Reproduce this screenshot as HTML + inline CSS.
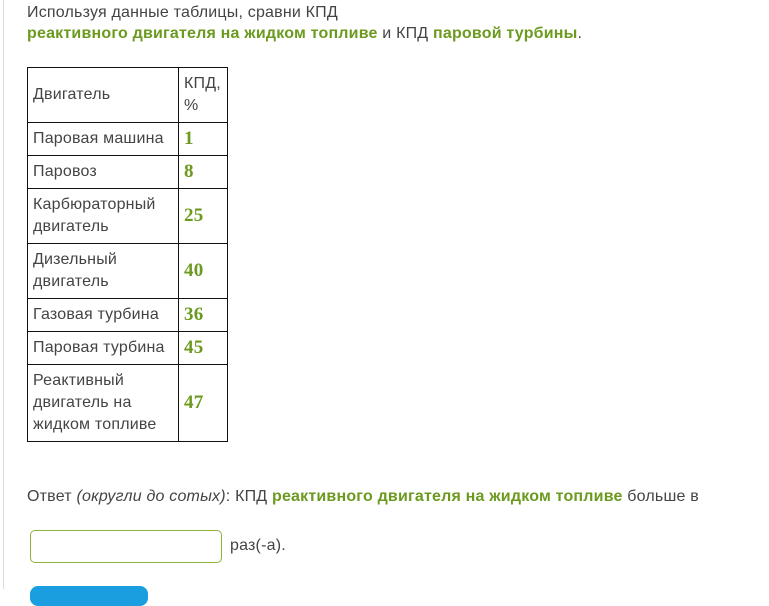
<!DOCTYPE html>
<html><head><meta charset="utf-8"><style>
body{margin:0;width:769px;height:589px;background:#fff;position:relative;overflow:hidden;font-family:"Liberation Sans","DejaVu Sans",sans-serif;color:#444;font-size:16px;letter-spacing:0.2px}
.t{position:absolute;white-space:nowrap;line-height:22px}
.g{color:#6b9a1f;font-weight:bold}
table{position:absolute;left:27px;top:67px;border-collapse:collapse}
td{border:1px solid #111;padding:0 5px;font-size:16px;line-height:22px;vertical-align:middle}
td.n{color:#6b9a1f;font-family:"Liberation Serif",serif;font-weight:bold;font-size:19px}
</style></head><body>
<div style="position:absolute;left:3px;top:0;width:1px;height:589px;background:#ddd"></div>
<div class="t" style="left:27px;top:2px">Используя данные таблицы, сравни КПД</div>
<div class="t" style="left:27px;top:23px"><span class="g">реактивного двигателя на жидком топливе</span> и КПД <span class="g">паровой турбины</span>.</div>
<table>
<tr style="height:55px"><td style="width:140px">Двигатель</td><td style="width:38px">КПД,<br>%</td></tr>
<tr style="height:33px"><td>Паровая машина</td><td class="n">1</td></tr>
<tr style="height:33px"><td>Паровоз</td><td class="n">8</td></tr>
<tr style="height:55px"><td>Карбюраторный<br>двигатель</td><td class="n">25</td></tr>
<tr style="height:55px"><td>Дизельный<br>двигатель</td><td class="n">40</td></tr>
<tr style="height:33px"><td>Газовая турбина</td><td class="n">36</td></tr>
<tr style="height:33px"><td>Паровая турбина</td><td class="n">45</td></tr>
<tr style="height:77px"><td>Реактивный<br>двигатель на<br>жидком топливе</td><td class="n">47</td></tr>
</table>
<div class="t" style="left:27px;top:486px">Ответ <i>(округли до сотых)</i>: КПД <span class="g">реактивного двигателя на жидком топливе</span> больше в</div>
<div style="position:absolute;left:30px;top:530px;width:190px;height:31px;border:1px solid #8db33a;border-radius:5px"></div>
<div class="t" style="left:230px;top:535px">раз(-а).</div>
<div style="position:absolute;left:30px;top:586px;width:118px;height:20px;background:#1a9ee0;border-radius:8px"></div>
</body></html>
